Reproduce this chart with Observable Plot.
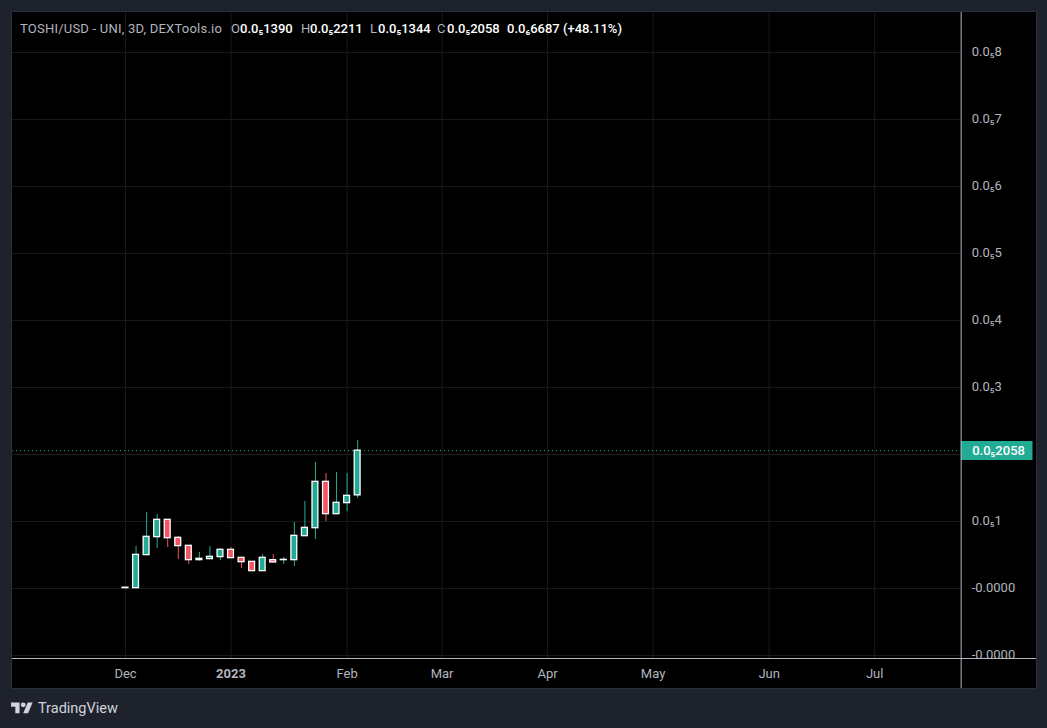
<!DOCTYPE html>
<html><head><meta charset="utf-8">
<script src="https://cdn.jsdelivr.net/npm/d3@7"></script>
<script src="https://cdn.jsdelivr.net/npm/@observablehq/plot@0.6"></script>
<style>
html,body{margin:0;padding:0;background:#1e222d;width:1047px;height:728px;overflow:hidden}
#panel{position:absolute;left:11px;top:11px;width:1024px;height:676px;background:#000;border:1px solid #2a2e39}
#panel svg{display:block;background:transparent}
#legend{position:absolute;left:8px;top:9px;font:13px Roboto,sans-serif;color:#b2b5be;white-space:pre;line-height:16px}
#legend b{font-weight:500;color:#fff}
#legend span{position:absolute;top:0}
#legend span:first-child{letter-spacing:.22px}
#brand{position:absolute;left:11px;top:700px;display:flex;align-items:center;gap:5px;color:#d1d4dc;font:14.5px Roboto,sans-serif;height:17px}
</style></head><body>
<div id="panel"><div id="legend"></div></div>
<div id="brand"><svg width="22" height="17" viewBox="0 0 36 28"><path fill="#d1d4dc" d="M14 22H7V11H0V4h14v18zM28 22h-8l7.5-18h8L28 22z"/><circle fill="#d1d4dc" cx="20" cy="8" r="4"/></svg><span>TradingView</span></div>
<script>
// Candles, 3-day bars, prices in millionths of a dollar
const dates = ["2022-12-01","2022-12-04","2022-12-07","2022-12-10","2022-12-13","2022-12-16","2022-12-19","2022-12-22","2022-12-25","2022-12-28","2022-12-31","2023-01-03","2023-01-06","2023-01-09","2023-01-12","2023-01-15","2023-01-18","2023-01-21","2023-01-24","2023-01-27","2023-01-30","2023-02-02","2023-02-05"];
const open  = [0.005,0.005,0.498,0.766,1.025,0.756,0.637,0.423,0.438,0.468,0.577,0.458,0.398,0.259,0.423,0.423,0.423,0.781,0.900,1.592,1.109,1.274,1.390];
const close = [0.012,0.502,0.771,1.025,0.751,0.632,0.423,0.443,0.473,0.577,0.453,0.393,0.259,0.458,0.388,0.428,0.786,0.905,1.592,1.109,1.279,1.383,2.058];
const high  = [0.012,0.627,1.134,1.104,1.025,0.776,0.637,0.537,0.627,0.597,0.612,0.458,0.398,0.507,0.507,0.463,0.985,1.299,1.881,1.716,1.731,1.716,2.211];
const low   = [0.005,0.005,0.498,0.597,0.612,0.433,0.358,0.408,0.438,0.418,0.453,0.299,0.259,0.259,0.388,0.358,0.328,0.781,0.731,1.000,1.109,1.149,1.344];

const yTicks = [8,7,6,5,4,3,1,0,-1];
const yTickLabels = ["0.0₅8","0.0₅7","0.0₅6","0.0₅5","0.0₅4","0.0₅3","0.0₅1","-0.0000","-0.0000"];
const yGridTicks = [8,7,6,5,4,3,2,1,0,-1];
const monthTicks = ["2022-12-01","2023-02-02","2023-03-01","2023-03-31","2023-04-30","2023-06-02","2023-07-02"];
const monthLabels = ["Dec","Feb","Mar","Apr","May","Jun","Jul"];
const yearTicks = ["2022-12-31"];
const yearLabels = ["2023"];

const lastClose = 2.058;
const lastLabel = "0.0₅2058";
const xDomain = ["2022-10-29T21:00Z","2023-08-17T00:00Z"].map(d => new Date(d));
const yDomain = [-1.045, 8.597];
const priceAxis = new Date("2023-07-26T14:00Z");
const tagEnd = new Date("2023-08-16T00:00Z");
const panelBottom = -1.5;

const UPF="#22ab94", DOWN = "#f7525f", GRID = "#1a1a1a", AX = "#b2b5be";
const parse = s => new Date(s.length > 10 ? s : s + "T00:00Z");
const candles = dates.map((d,i)=>({date:parse(d),open:open[i],close:close[i],high:high[i],low:low[i],
  color: close[i]>=open[i]?UPF:DOWN,
  x1:d3.utcHour.offset(parse(d),-20), x2:d3.utcHour.offset(parse(d),20)}));
const labelOf = (ticks,labels)=>{const m=new Map(ticks.map((t,i)=>[+parse(t),labels[i]]));return d=>m.get(+d);};
const axisFont = {fontFamily:"Roboto,sans-serif",fontSize:13};

const chart = Plot.plot({
  width:1024,height:676,marginTop:0,marginLeft:0,marginRight:0,marginBottom:30,
  style:{background:"transparent",color:AX},
  x:{type:"utc",domain:xDomain,axis:null},
  y:{domain:yDomain,axis:null},
  marks:[
    Plot.ruleY(yGridTicks,{x1:xDomain[0],x2:priceAxis,y:d=>d,stroke:GRID}),
    Plot.ruleX([...monthTicks,...yearTicks].map(parse),{y1:yDomain[1],y2:yDomain[0],x:d=>d,stroke:GRID}),
    Plot.ruleY([lastClose],{x1:xDomain[0],x2:priceAxis,stroke:UPF,strokeDasharray:"1,3"}),
    Plot.ruleX(candles,{x:"date",y1:"low",y2:"high",stroke:"color",strokeWidth:1}),
    Plot.rect(candles,{x1:"x1",x2:"x2",y1:"open",y2:"close",fill:"color",stroke:"#fff",strokeWidth:1.3}),
    Plot.text(yTicks,{x:()=>priceAxis,y:d=>d,text:(d,i)=>yTickLabels[i],dx:10.5,dy:-1,textAnchor:"start",fill:AX,clip:"frame",...axisFont}),
    Plot.ruleY([lastClose],{x1:priceAxis,x2:tagEnd,stroke:UPF,strokeWidth:19}),
    Plot.text([lastClose],{x:()=>priceAxis,y:d=>d,text:()=>lastLabel,dx:11,textAnchor:"start",fill:"#fff",fontWeight:500,...axisFont}),
    Plot.ruleY([yDomain[0]],{stroke:AX}),
    Plot.ruleX([priceAxis],{y1:yDomain[1],y2:panelBottom,stroke:AX}),
    Plot.axisX({ticks:monthTicks.map(parse),tickSize:0,tickPadding:10,label:null,tickFormat:labelOf(monthTicks,monthLabels),color:AX,...axisFont}),
    Plot.axisX({ticks:yearTicks.map(parse),tickSize:0,tickPadding:10,label:null,tickFormat:labelOf(yearTicks,yearLabels),color:AX,fontWeight:"bold",...axisFont})
  ]
});
document.getElementById("panel").prepend(chart);

document.getElementById("legend").innerHTML = [
  [0,"TOSHI/USD - UNI, 3D, DEXTools.io",0],[211,"O",0],[220,"0.0₅1390",1],
  [281,"H",0],[290,"0.0₅2211",1],[350,"L",0],[358,"0.0₅1344",1],
  [417,"C",0],[427,"0.0₅2058",1],[487,"0.0₆6687 (+48.11%)",1]
].map(([x,t,b])=>`<span style="left:${x}px">${b?`<b>${t}</b>`:t}</span>`).join("");
</script>
</body></html>
